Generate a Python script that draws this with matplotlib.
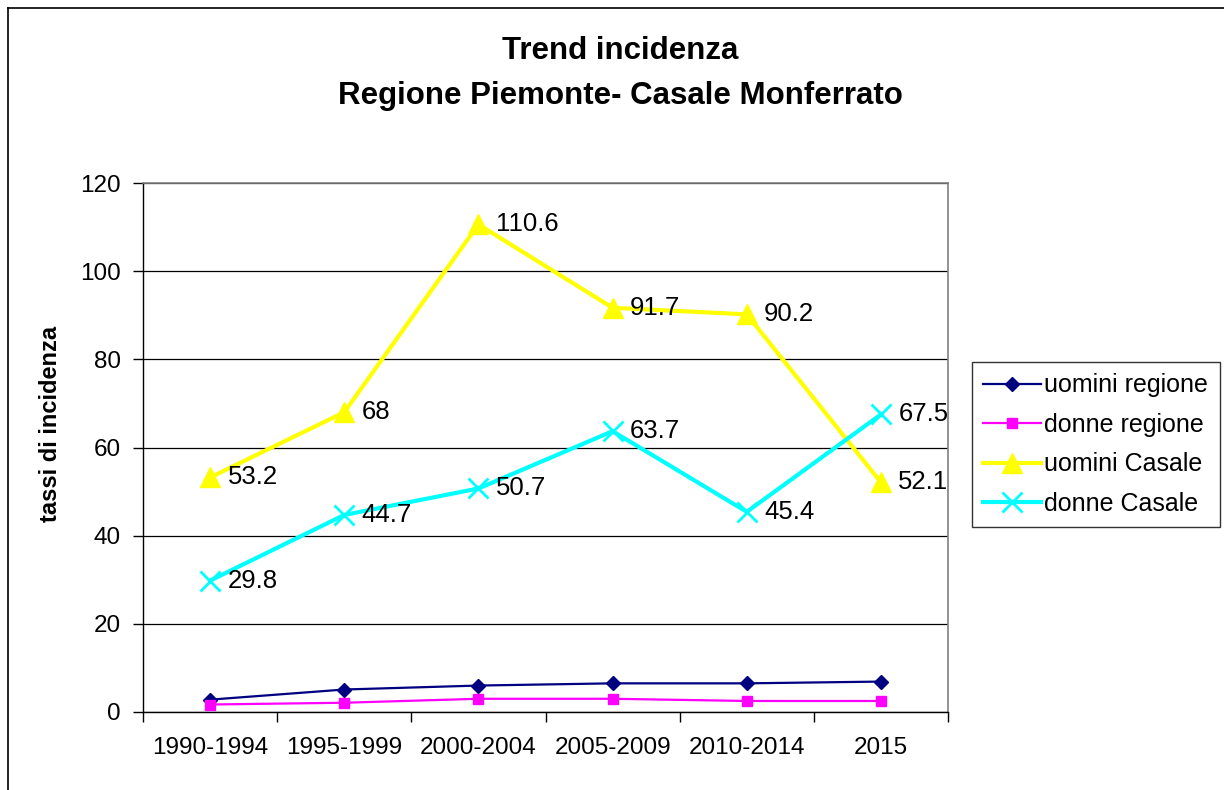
import matplotlib
matplotlib.use("Agg")
import matplotlib.pyplot as plt
from matplotlib.lines import Line2D

plt.rcParams['font.family'] = ['Liberation Sans', 'DejaVu Sans']

categories = ["1990-1994", "1995-1999", "2000-2004", "2005-2009", "2010-2014", "2015"]
uomini_regione = [2.8, 5.1, 6.0, 6.5, 6.5, 6.9]
donne_regione = [1.7, 2.1, 3.0, 3.0, 2.5, 2.5]
uomini_casale = [53.2, 68, 110.6, 91.7, 90.2, 52.1]
donne_casale = [29.8, 44.7, 50.7, 63.7, 45.4, 67.5]
yticks = [0, 20, 40, 60, 80, 100, 120]

fig = plt.figure(figsize=(12.24, 7.90), dpi=100)
ax = fig.add_axes([143/1224, 1-712/790, (948-143)/1224, (712-183)/790])

x = list(range(len(categories)))

ax.plot(x, uomini_regione, color='#000080', lw=1.6, marker='D', ms=7.5,
        label='uomini regione', zorder=3)
ax.plot(x, donne_regione, color='#FF00FF', lw=1.6, marker='s', ms=7.5,
        label='donne regione', zorder=3)
ax.plot(x, uomini_casale, color='#FFFF00', lw=3, marker='^', ms=15,
        label='uomini Casale', zorder=4)
ax.plot(x, donne_casale, color='#00FFFF', lw=3, marker='x', ms=14, mew=2,
        label='donne Casale', zorder=5)

for series in (uomini_casale, donne_casale):
    for xi, v in zip(x, series):
        ax.annotate(f"{v:g}", (xi, v), xytext=(12.5, 0), textcoords='offset points',
                    va='center', ha='left', fontsize=18.5, color='black', zorder=6)

ax.set_xlim(-0.5, len(categories) - 0.5)
ax.set_ylim(0, 120)
ax.set_yticks(yticks)
ax.set_yticklabels([str(t) for t in yticks])
ax.set_xticks(x)
ax.set_xticklabels(categories)
ax.set_xticks([i - 0.5 for i in range(len(categories) + 1)], minor=True)

ax.tick_params(axis='x', which='major', length=0, pad=18, labelsize=17.5)
ax.tick_params(axis='x', which='minor', length=7, width=1, direction='out', color='black')
ax.tick_params(axis='y', which='major', length=7, width=1, direction='out', pad=9,
               labelsize=17.5, color='black')

ax.yaxis.grid(True, color='black', lw=0.9)
ax.set_axisbelow(True)
for s in ('top', 'right'):
    ax.spines[s].set_color('#808080')
    ax.spines[s].set_linewidth(1.2)
for s in ('left', 'bottom'):
    ax.spines[s].set_color('black')
    ax.spines[s].set_linewidth(1.0)

ax.set_ylabel('tassi di incidenza', fontsize=17, fontweight='bold')
ax.yaxis.set_label_coords((62-143)/805, (712-423.5)/529)

fig.text(620/1224, 1-51/790, 'Trend incidenza', ha='center', va='center',
         fontsize=22.5, fontweight='bold')
fig.text(620/1224, 1-96/790, 'Regione Piemonte- Casale Monferrato', ha='center', va='center',
         fontsize=22.5, fontweight='bold')

leg = ax.legend(loc='upper left', bbox_to_anchor=(972/1224, 1-362/790),
                bbox_transform=fig.transFigure, fontsize=18, frameon=True,
                fancybox=False, shadow=False, handlelength=2.3, handletextpad=0.15,
                labelspacing=0.62, borderpad=0.45, borderaxespad=0)
leg.get_frame().set_edgecolor('black')
leg.get_frame().set_linewidth(1.0)

fig.add_artist(Line2D([8/1224, 1.0], [1-8/790, 1-8/790], transform=fig.transFigure,
                      color='black', lw=1.2))
fig.add_artist(Line2D([8/1224, 8/1224], [0, 1-8/790], transform=fig.transFigure,
                      color='black', lw=1.2))

fig.savefig('out.png', dpi=100)
